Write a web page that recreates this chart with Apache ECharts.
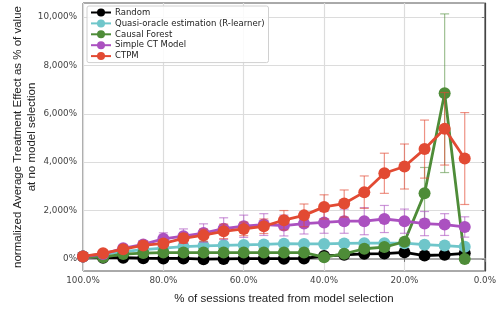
<!DOCTYPE html>
<html><head><meta charset="utf-8">
<script src="https://cdn.jsdelivr.net/npm/echarts@6/dist/echarts.min.js"></script>
<style>html,body{margin:0;padding:0;background:#fff}#c{width:499px;height:311px}</style>
</head><body><div id="c"></div>
<script>
const seriesNames = ['Random', 'Quasi-oracle estimation (R-learner)', 'Causal Forest', 'Simple CT Model', 'CTPM'];
const xPct = [100,95,90,85,80,75,70,65,60,55,50,45,40,35,30,25,20,15,10,5];
const randomVals = [100,50,50,30,20,20,-10,0,10,10,10,20,120,170,210,220,270,140,170,230];
const randomErr  = [20,20,20,20,20,20,20,20,20,20,20,20,30,30,30,30,30,30,30,30];
const quasiVals  = [100,180,300,380,450,510,540,560,580,600,630,620,620,640,650,650,650,590,550,500];
const quasiErr   = [20,30,50,60,70,80,80,80,80,80,80,80,80,80,80,80,80,80,80,80];
const forestVals = [100,70,200,240,260,260,260,260,260,260,260,260,70,210,420,490,710,2710,6850,0];
const forestErr  = [20,20,30,40,40,40,40,40,40,40,40,40,40,60,80,80,100,1070,3280,60];
const ctVals     = [100,200,440,600,830,940,1070,1250,1350,1420,1380,1460,1510,1560,1560,1650,1560,1460,1420,1320];
const ctErr      = [30,80,120,150,250,300,380,450,460,450,430,430,450,500,560,560,500,500,450,420];
const ctpmVals   = [100,230,400,555,640,850,980,1140,1240,1350,1600,1800,2150,2290,2760,3540,3820,4540,5380,4150];
const ctpmErr    = [20,60,80,100,150,200,250,300,280,300,400,470,500,560,670,830,930,1200,1500,1900];
const yTicks = [0,2000,4000,6000,8000,10000];
const xTicks = [100,80,60,40,20,0];

const colors = ['#000000', '#6fc6ca', '#4e8c38', '#ab51c0', '#e24a33'];
const errColors = ['rgba(0,0,0,0.5)', 'rgba(111,198,202,0.6)', 'rgba(78,140,56,0.55)', 'rgba(171,81,192,0.6)', 'rgba(226,74,51,0.6)'];
const allVals = [randomVals, quasiVals, forestVals, ctVals, ctpmVals];
const allErr = [randomErr, quasiErr, forestErr, ctErr, ctpmErr];

const chart = echarts.init(document.getElementById('c'), null, {renderer: 'canvas'});
const series = [];
seriesNames.forEach((name, i) => {
  const col = errColors[i];
  series.push({
    type: 'custom',
    name: name + ' err',
    z: 2 + i * 2,
    clip: true,
    data: xPct.map((x, k) => [x, allVals[i][k] - allErr[i][k], allVals[i][k] + allErr[i][k]]),
    renderItem: (params, api) => {
      const x = api.value(0);
      const p1 = api.coord([x, api.value(2)]);
      const p2 = api.coord([x, api.value(1)]);
      const w = 4.5;
      const st = {stroke: col, lineWidth: 1.2};
      return {type: 'group', children: [
        {type: 'line', shape: {x1: p1[0], y1: p1[1], x2: p2[0], y2: p2[1]}, style: st},
        {type: 'line', shape: {x1: p1[0]-w, y1: p1[1], x2: p1[0]+w, y2: p1[1]}, style: st},
        {type: 'line', shape: {x1: p2[0]-w, y1: p2[1], x2: p2[0]+w, y2: p2[1]}, style: st}
      ]};
    }
  });
  series.push({
    type: 'line',
    name: name,
    z: 3 + i * 2,
    data: xPct.map((x, k) => [x, allVals[i][k]]),
    symbol: 'circle',
    symbolSize: 12,
    showAllSymbol: true,
    itemStyle: {color: colors[i]},
    lineStyle: {color: colors[i], width: 2.8},
    emphasis: {disabled: true},
    animation: false
  });
});

chart.setOption({
  animation: false,
  grid: {left: 83, right: 10, top: 3, bottom: 40, show: true, borderColor: '#555', borderWidth: 1, backgroundColor: 'transparent'},
  legend: {
    data: seriesNames,
    orient: 'vertical',
    left: 87, top: 6,
    padding: [2, 4, 2, 3],
    itemWidth: 20, itemHeight: 10, itemGap: 1.9,
    backgroundColor: 'rgba(255,255,255,0.85)',
    borderColor: '#d0d0d0', borderWidth: 1, borderRadius: 2,
    textStyle: {fontFamily: 'DejaVu Sans', fontSize: 8.5, color: '#222', padding: [0,0,0,-1]}
  },
  xAxis: {
    type: 'value', inverse: true, min: 0, max: 100, interval: 20,
    name: '% of sessions treated from model selection',
    nameLocation: 'middle', nameGap: 22, nameMoveOverlap: false,
    nameTextStyle: {fontFamily: 'Liberation Sans', fontSize: 11.5, color: '#222'},
    axisLine: {show: true, lineStyle: {color: '#aaa', width: 2}},
    axisTick: {show: true, length: 3, lineStyle: {color: '#777'}},
    axisLabel: {fontFamily: 'DejaVu Sans', fontSize: 8.8, color: '#444', margin: 5,
      formatter: v => v.toFixed(1) + '%'},
    splitLine: {show: true, lineStyle: {color: '#dcdcdc', width: 1.2}}
  },
  yAxis: {
    type: 'value', min: -500, max: 10580,
    name: 'normalized Average Treatment Effect as % of value\nat no model selection',
    nameLocation: 'middle', nameGap: 44, nameRotate: 90, nameMoveOverlap: false,
    nameTextStyle: {fontFamily: 'Liberation Sans', fontSize: 11.5, color: '#222', lineHeight: 14},
    axisLine: {show: true, lineStyle: {color: '#444', width: 1.2}},
    axisTick: {show: true, length: 3, customValues: yTicks, lineStyle: {color: '#777'}},
    axisLabel: {fontFamily: 'DejaVu Sans', fontSize: 8.8, color: '#444', margin: 6, customValues: yTicks,
      formatter: v => v.toLocaleString('en-US') + '%'},
    splitLine: {show: true, lineStyle: {color: '#dcdcdc', width: 1.2}}
  },
  series: series
});
</script>
</body></html>
